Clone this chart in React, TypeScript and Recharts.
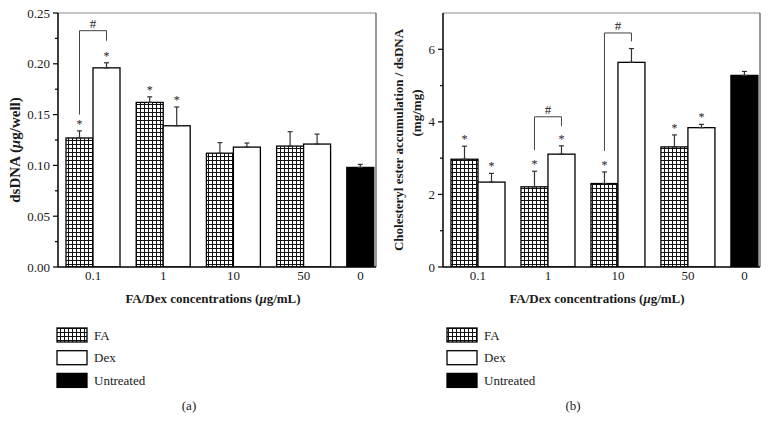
import { BarChart, Bar, XAxis, YAxis, ErrorBar, Cell, ReferenceLine } from "recharts";

const FONT = '"Liberation Serif", "Times New Roman", serif';
const INK = "#1a1a1a";
const BAR_SIZE = 27;

// groups on the x axis; the last one only holds the untreated control
const GROUPS = ["0.1", "1", "10", "50", "0"];

// (a) dsDNA (µg/well)
const DNA_FA = [0.127, 0.162, 0.112, 0.119];
const DNA_FA_ERR = [0.007, 0.0055, 0.0104, 0.0142];
const DNA_DEX = [0.196, 0.139, 0.118, 0.121];
const DNA_DEX_ERR = [0.005, 0.0185, 0.004, 0.0098];
const DNA_UNTREATED = 0.098;
const DNA_UNTREATED_ERR = 0.003;
const DNA_STAR_FA = [true, true, false, false];
const DNA_STAR_DEX = [true, true, false, false];
const DNA_BRACKETS = [{ group: 0, low: 0.15, top: 0.2326, rightLow: 0.2227 }];
const DNA_TICKS = [0, 0.025, 0.05, 0.075, 0.1, 0.125, 0.15, 0.175, 0.2, 0.225, 0.25];

// (b) cholesteryl ester accumulation / dsDNA (mg/mg)
const CE_FA = [2.97, 2.21, 2.3, 3.31];
const CE_FA_ERR = [0.36, 0.43, 0.32, 0.33];
const CE_DEX = [2.34, 3.11, 5.64, 3.84];
const CE_DEX_ERR = [0.24, 0.23, 0.38, 0.09];
const CE_UNTREATED = 5.28;
const CE_UNTREATED_ERR = 0.11;
const CE_STAR_FA = [true, true, true, true];
const CE_STAR_DEX = [true, true, false, true];
const CE_BRACKETS = [
  { group: 1, low: 3.22, top: 4.14, rightLow: 3.88 },
  { group: 2, low: 3.2, top: 6.45, rightLow: 6.22 },
];
const CE_TICKS = [0, 1, 2, 3, 4, 5, 6];

type Bracket = { group: number; low: number; top: number; rightLow: number };

function buildRows(fa: number[], faErr: number[], dex: number[], dexErr: number[], untreated: number, untreatedErr: number) {
  return GROUPS.map((g, i) =>
    i < fa.length
      ? { pos: i, group: g, left: fa[i], leftErr: faErr[i], dex: dex[i], dexErr: dexErr[i] }
      : { pos: i, group: g, left: untreated, leftErr: untreatedErr, dex: null, dexErr: null }
  );
}

const XTick = (p: any) => {
  const i = p.payload.value;
  const dx = i === GROUPS.length - 1 ? -BAR_SIZE / 2 : 0;
  return (
    <text x={p.x + dx} y={p.y + 13} textAnchor="middle" fontSize={13} fontFamily={FONT} fill={INK}>
      {GROUPS[i]}
    </text>
  );
};

const makeYTick = (majorStep: number, decimals: number) => (p: any) => {
  const v = p.payload.value;
  const major = Math.abs(v / majorStep - Math.round(v / majorStep)) < 1e-6;
  const ax = p.x;
  return (
    <g>
      <line x1={ax - (major ? 5 : 3)} x2={ax} y1={p.y} y2={p.y} stroke="#000" strokeWidth={1.2} />
      {major && (
        <text x={ax - 8} y={p.y} dy="0.35em" textAnchor="end" fontSize={13} fontFamily={FONT} fill={INK}>
          {v.toFixed(decimals)}
        </text>
      )}
    </g>
  );
};

const makeShape = (key: "left" | "dex", stars: boolean[], brackets: Bracket[]) => (p: any) => {
  const { x, y, width, height, fill, index, payload } = p;
  const v = payload[key];
  const err = payload[key + "Err"] ?? 0;
  if (v == null || !height) return <g />;
  const k = height / v;
  const base = y + height;
  const cx = x + width / 2;
  const errTop = y - err * k;
  return (
    <g>
      <rect x={x} y={y} width={width} height={height} fill={fill} stroke="#000" strokeWidth={1.3} />
      {stars[index] && (
        <text x={cx} y={errTop - 3} textAnchor="middle" fontSize={12} fontFamily={FONT} fill="#222">
          *
        </text>
      )}
      {brackets
        .filter((b) => b.group === index)
        .map((b) => {
          const rx = cx + width;
          const top = base - b.top * k;
          return (
            <g key={b.group}>
              <path
                d={`M${cx},${base - b.low * k}V${top}H${rx}V${base - b.rightLow * k}`}
                fill="none"
                stroke="#444"
                strokeWidth={1}
              />
              <text x={(cx + rx) / 2} y={top - 2.5} textAnchor="middle" fontSize={13} fontFamily={FONT} fill="#222">
                #
              </text>
            </g>
          );
        })}
    </g>
  );
};

function Legend({ x, patId }: { x: number; patId: string }) {
  const items = [
    { name: "FA", fill: `url(#${patId})` },
    { name: "Dex", fill: "#fff" },
    { name: "Untreated", fill: "#000" },
  ];
  return (
    <g>
      {items.map((it, i) => {
        const y = 328 + i * 22.7;
        return (
          <g key={it.name}>
            <rect x={x} y={y} width={30} height={14} fill={it.fill} stroke="#000" strokeWidth={1.3} />
            <text x={x + 37} y={y + 11.5} fontSize={13} fontFamily={FONT} fill={INK}>
              {it.name}
            </text>
          </g>
        );
      })}
    </g>
  );
}

interface IPanelProps {
  rows: ReturnType<typeof buildRows>;
  yMax: number;
  yTicks: number[];
  majorStep: number;
  decimals: number;
  starsFA: boolean[];
  starsDex: boolean[];
  brackets: Bracket[];
  yAxisWidth: number;
  patId: string;
  yTitle: React.ReactNode;
  legendX: number;
  tag: string;
}

function Panel(props: IPanelProps) {
  const { rows, yMax, yTicks, majorStep, decimals, starsFA, starsDex, brackets, yAxisWidth, patId } = props;
  const xMax = 4.03;
  return (
    <BarChart
      width={384}
      height={432}
      data={rows}
      margin={{ top: 13, right: 8, left: 0, bottom: 122 }}
      barGap={0}
      barSize={BAR_SIZE}
    >
      <defs>
        <pattern id={patId} width={4} height={4} patternUnits="userSpaceOnUse">
          <rect width={4} height={4} fill="#fff" />
          <path d="M0,0.5H4M0.5,0V4" stroke="#111" strokeWidth={1} />
        </pattern>
      </defs>
      <XAxis
        type="number"
        dataKey="pos"
        domain={[-0.5, xMax]}
        ticks={[0, 1, 2, 3, 4]}
        interval={0}
        tick={XTick}
        tickLine={false}
        tickSize={0}
        tickMargin={0}
        axisLine={{ stroke: "#000", strokeWidth: 1.5 }}
        height={43}
      />
      <YAxis
        domain={[0, yMax]}
        ticks={yTicks}
        interval={0}
        tick={makeYTick(majorStep, decimals)}
        tickLine={false}
        tickSize={0}
        tickMargin={0}
        axisLine={{ stroke: "#000", strokeWidth: 1.5 }}
        width={yAxisWidth}
        allowDataOverflow
      />
      <ReferenceLine y={yMax} stroke="#8a8a8a" strokeWidth={1.2} />
      <ReferenceLine x={xMax} stroke="#555" strokeWidth={1.2} />
      <Bar dataKey="left" isAnimationActive={false} shape={makeShape("left", starsFA, brackets)}>
        {rows.map((r, i) => (
          <Cell key={i} fill={i < GROUPS.length - 1 ? `url(#${patId})` : "#000"} />
        ))}
        <ErrorBar
          dataKey={(d: any) => (d.leftErr == null ? undefined : [0, d.leftErr])}
          width={2.5}
          stroke="#333"
          strokeWidth={1.2}
          direction="y"
          isAnimationActive={false}
        />
      </Bar>
      <Bar dataKey="dex" isAnimationActive={false} fill="#fff" shape={makeShape("dex", starsDex, [])}>
        <ErrorBar
          dataKey={(d: any) => (d.dexErr == null ? undefined : [0, d.dexErr])}
          width={2.5}
          stroke="#333"
          strokeWidth={1.2}
          direction="y"
          isAnimationActive={false}
        />
      </Bar>
      {props.yTitle}
      <text x={213} y={303} textAnchor="middle" fontSize={13} fontWeight="bold" fontFamily={FONT} fill={INK}>
        FA/Dex concentrations (<tspan fontStyle="italic">μ</tspan>g/mL)
      </text>
      <Legend x={props.legendX} patId={patId} />
      <text x={189} y={410} textAnchor="middle" fontSize={13} fontFamily={FONT} fill={INK}>
        {props.tag}
      </text>
    </BarChart>
  );
}

export default function App() {
  const dnaRows = buildRows(DNA_FA, DNA_FA_ERR, DNA_DEX, DNA_DEX_ERR, DNA_UNTREATED, DNA_UNTREATED_ERR);
  const ceRows = buildRows(CE_FA, CE_FA_ERR, CE_DEX, CE_DEX_ERR, CE_UNTREATED, CE_UNTREATED_ERR);

  return (
    <div style={{ position: "absolute", left: 0, top: 0, width: 768, height: 432, background: "#fff", display: "flex" }}>
      <Panel
        rows={dnaRows}
        yMax={0.25}
        yTicks={DNA_TICKS}
        majorStep={0.05}
        decimals={2}
        starsFA={DNA_STAR_FA}
        starsDex={DNA_STAR_DEX}
        brackets={DNA_BRACKETS}
        yAxisWidth={58}
        patId="hatchA"
        legendX={57}
        tag="(a)"
        yTitle={
          <text
            transform="translate(20,150) rotate(-90)"
            textAnchor="middle"
            fontSize={15}
            fontWeight="bold"
            fontFamily={FONT}
            fill={INK}
          >
            dsDNA (<tspan fontStyle="italic">μ</tspan>g/well)
          </text>
        }
      />
      <Panel
        rows={ceRows}
        yMax={7}
        yTicks={CE_TICKS}
        majorStep={2}
        decimals={0}
        starsFA={CE_STAR_FA}
        starsDex={CE_STAR_DEX}
        brackets={CE_BRACKETS}
        yAxisWidth={59}
        patId="hatchB"
        legendX={63}
        tag="(b)"
        yTitle={
          <g fontSize={13} fontWeight="bold" fontFamily={FONT} fill={INK} textAnchor="middle">
            <text transform="translate(19,140) rotate(-90)">Cholesteryl ester accumulation / dsDNA</text>
            <text transform="translate(37,113) rotate(-90)">(mg/mg)</text>
          </g>
        }
      />
    </div>
  );
}
